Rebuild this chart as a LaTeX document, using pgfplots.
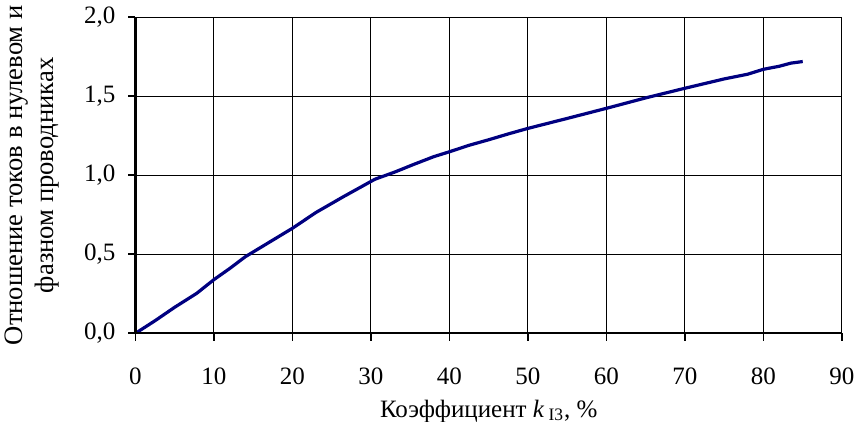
\documentclass[border=0pt]{standalone}
\usepackage{fontspec}
\setmainfont{Liberation Serif}
\usepackage{pgfplots}
\pgfplotsset{compat=1.18}
\definecolor{navyline}{RGB}{0,0,128}
\begin{document}
\fontsize{12.5}{15}\selectfont
\begin{tikzpicture}
\useasboundingbox (0,0) rectangle (427.5pt,211pt);
\begin{axis}[
  at={(67.75pt,44.35pt)}, anchor=south west,
  scale only axis, width=353.25pt, height=158pt,
  xmin=0, xmax=90, ymin=0, ymax=2,
  xtick={0,10,...,90}, ytick={0,0.5,...,2},
  grid=major, major grid style={black, line width=0.5pt},
  axis line style={black, line width=0.5pt},
  tick align=outside, major tick length=3.7pt,
  tick style={black, line width=0.9pt},
  xtick pos=bottom, ytick pos=left,
  /pgf/number format/assume math mode=true,
  yticklabel style={/pgf/number format/.cd, fixed, fixed zerofill, precision=1, use comma, assume math mode=true, /tikz/.cd, xshift=-2pt},
  xticklabel style={yshift=-9pt},
  font=\fontsize{12.5}{15}\selectfont,
  xlabel={Коэффициент \textit{k}\,\textsubscript{I3}, \%},
  xlabel style={at={(axis description cs:0.5,-0.246)}, anchor=center},
  ylabel={Отношение токов в нулевом и\\фазном проводниках},
  ylabel style={align=center, font=\fontsize{13.3}{15.5}\selectfont, at={(axis description cs:-0.146,0.5)}, anchor=center},
]
\addplot[navyline, line width=1.6pt] coordinates {
(0,0) (2.5,0.08) (5,0.165) (7.8,0.253) (10,0.34) (12,0.41) (14,0.485)
(17,0.575) (20,0.665) (23,0.765) (26.5,0.865) (28.5,0.92) (30.5,0.975)
(33,1.02) (35.5,1.07) (38,1.118) (40,1.149) (42.5,1.19) (45,1.225)
(47.5,1.262) (50,1.297) (55,1.36) (60,1.424) (65,1.49) (70,1.551)
(75,1.61) (78,1.64) (80,1.671) (82,1.69) (83.5,1.71) (85,1.72)
};
\end{axis}
\draw[black, line width=1.1pt] (67.75pt,202.35pt) -- (67.75pt,44.35pt) -- (421pt,44.35pt);
\end{tikzpicture}
\end{document}
